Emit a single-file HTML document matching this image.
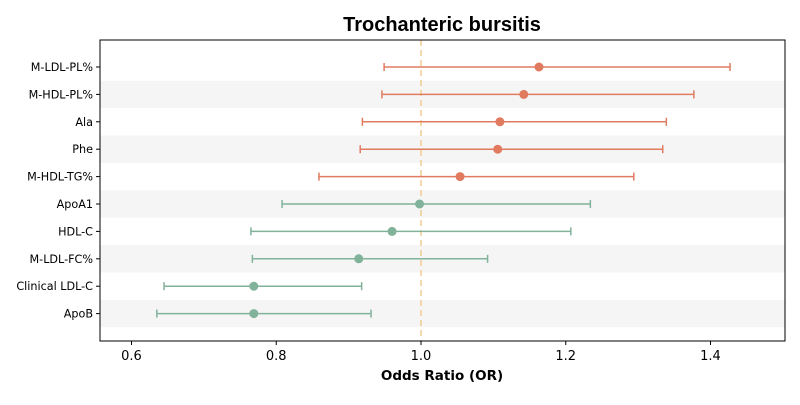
<!DOCTYPE html>
<html><head><meta charset="utf-8"><style>
body{margin:0;background:#fff;}
svg text{font-family:"DejaVu Sans","Liberation Sans",sans-serif;}
</style></head><body>
<svg id="chart" width="800" height="400" xmlns="http://www.w3.org/2000/svg">
<text x="442" y="31" text-anchor="middle" font-size="20" font-weight="bold" style="font-family:'Liberation Sans',sans-serif">Trochanteric bursitis</text>
<g id="bands"></g>
<g id="refline"></g>
<g id="marks"></g>
<g id="axes"></g>
<text x="442" y="380" text-anchor="middle" font-size="13.5" font-weight="bold">Odds Ratio (OR)</text>
</svg>
<script>
const labels=["M-LDL-PL%","M-HDL-PL%","Ala","Phe","M-HDL-TG%","ApoA1","HDL-C","M-LDL-FC%","Clinical LDL-C","ApoB"];
const orValues=[1.163,1.142,1.109,1.106,1.054,0.998,0.960,0.914,0.769,0.769];
const ciLow=[0.949,0.946,0.919,0.916,0.859,0.808,0.765,0.767,0.645,0.635];
const ciHigh=[1.427,1.377,1.339,1.334,1.294,1.234,1.207,1.092,0.918,0.931];
const xTicks=[0.6,0.8,1.0,1.2,1.4];
const xTickLabels=["0.6","0.8","1.0","1.2","1.4"];
const NS="http://www.w3.org/2000/svg";
const L=100,R=785,T=40,B=341;
const x=v=>421+(v-1)*723.75;
const rowH=27.4;
const y=i=>67+i*rowH;
function mk(tag,attrs,parent){const e=document.createElementNS(NS,tag);for(const k in attrs)e.setAttribute(k,attrs[k]);document.getElementById(parent).appendChild(e);return e;}
labels.forEach((lab,i)=>{
  if(i%2===1){const b=mk('rect',{x:L,y:y(i)-rowH/2,width:R-L,height:rowH,fill:'#f5f5f5'},'bands');
    
    }
});
const rl=mk('line',{x1:x(1),x2:x(1),y1:T,y2:B,stroke:'#F2CC8F','stroke-width':1.5,'stroke-dasharray':'6,4'},'refline');


labels.forEach((lab,i)=>{
  const c=orValues[i]>=1.0?'#E07B5F':'#81B29A';
  const yy=y(i);
  const g=mk('g',{},'marks');
  
  
  const add=(t,a)=>{const e=document.createElementNS(NS,t);for(const k in a)e.setAttribute(k,a[k]);g.appendChild(e);return e;};
  add('line',{x1:x(ciLow[i]),x2:x(ciHigh[i]),y1:yy,y2:yy,stroke:c,'stroke-width':1.5});
  add('line',{x1:x(ciLow[i]),x2:x(ciLow[i]),y1:yy-4,y2:yy+4,stroke:c,'stroke-width':1.5});
  add('line',{x1:x(ciHigh[i]),x2:x(ciHigh[i]),y1:yy-4,y2:yy+4,stroke:c,'stroke-width':1.5});
  add('circle',{cx:x(orValues[i]),cy:yy,r:4.5,fill:c});
  const tl=mk('text',{x:L-7,y:yy+4,'text-anchor':'end','font-size':11.2},'axes');
  tl.textContent=lab;
  
  
  mk('line',{x1:L-4,x2:L,y1:yy,y2:yy,stroke:'#000'},'axes');
});
const fr=mk('rect',{x:L,y:T,width:R-L,height:B-T,fill:'none',stroke:'#000','stroke-width':1},'axes');


xTicks.forEach((v,i)=>{
  mk('line',{x1:x(v),x2:x(v),y1:B,y2:B+4,stroke:'#000'},'axes');
  const t=mk('text',{x:x(v),y:B+19,'text-anchor':'middle','font-size':13},'axes');
  t.textContent=xTickLabels[i];
  
  
});
</script>
</body></html>
